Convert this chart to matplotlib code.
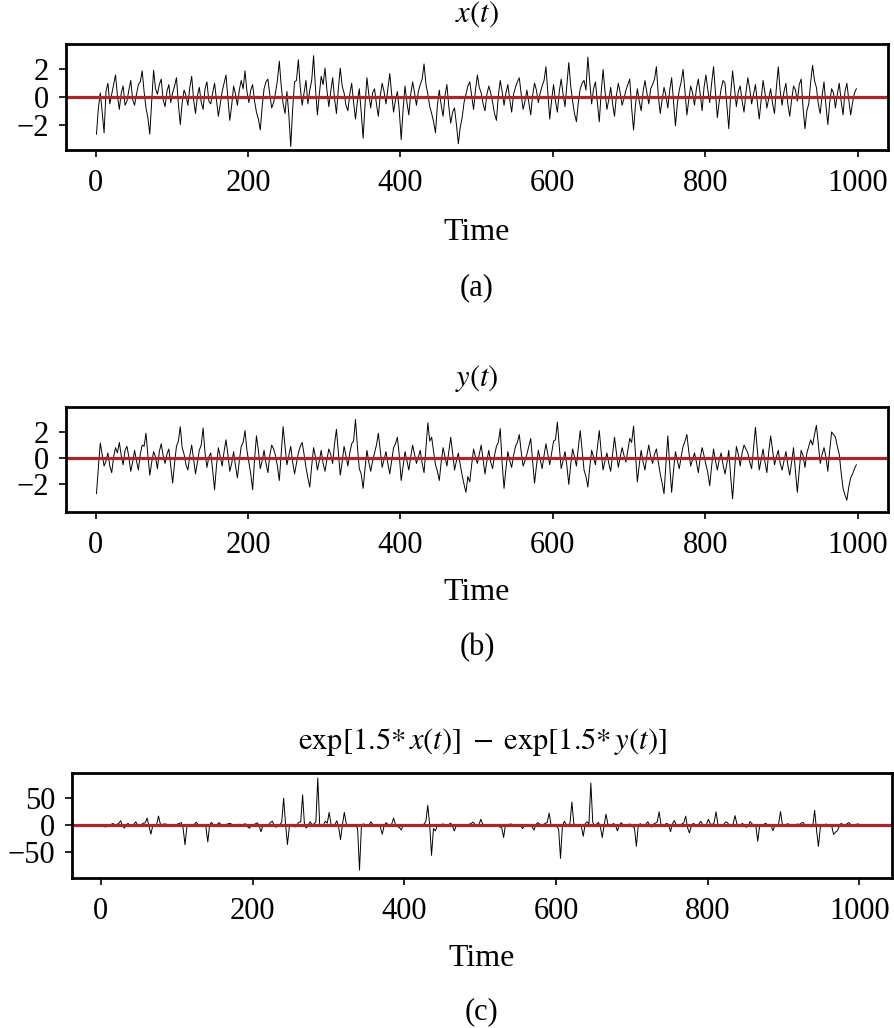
import numpy as np
import matplotlib
matplotlib.use("Agg")
import matplotlib.pyplot as plt

plt.rcParams['font.family'] = ['Liberation Serif', 'DejaVu Serif']
plt.rcParams['mathtext.fontset'] = 'stix'

# time index: values every 2.5 steps
time = np.arange(1, 1000, 2.5)

# x(t): t = 1, 6, 11, ...
x_vals = [
    -2.7, 0.3, -2.6, 1.0, 0.2, 1.6, -0.9, 0.8, -0.3, 1.2,
    -0.6, 0.9, 1.9, -0.8, -2.7, 1.95, 0.2, 1.3, -0.7, 0.9,
    0.3, 1.4, -2.0, 0.5, -0.6, 1.5, -1.2, 0.7, -0.9, 1.1,
    -0.5, 1.0, -1.4, 0.4, 1.6, -1.7, 0.8, -0.6, 1.2, 1.9,
    -0.4, 0.9, -1.1, -2.4, 0.6, 1.3, -0.8, 0.3, 2.6, -0.5,
    0.4, -3.6, 1.1, 2.7, -0.6, 1.2, 0.5, 3.0, -1.3, 1.5,
    2.1, -0.7, 1.4, -1.2, 2.1, 0.3, -1.0, 1.0, -1.6, 0.6,
    -3.0, 1.4, -0.8, 0.6, -1.4, 1.0, -0.5, 1.7, -1.1, 0.4,
    -3.1, 0.8, -1.3, 1.1, -0.6, 0.9, 2.4, 0.2, -1.2, -2.6,
    0.5, -1.4, 0.9, -1.9, -0.8, -3.4, -1.5, 0.2, 1.1, -0.9,
    1.6, 0.3, -1.0, 0.8, -0.4, -1.7, 1.2, -0.6, 0.9, -1.1,
    0.7, 1.4, -0.9, 0.5, -1.3, 1.0, -0.4, 0.8, 2.2, -1.6,
    0.9, -1.1, 1.3, -0.7, 2.5, -0.3, -1.8, 0.6, 1.2, 2.9,
    -0.5, 1.1, -1.8, 2.0, -0.9, 0.7, -1.4, 1.0, -0.6, 0.5,
    1.3, -2.4, 0.6, -1.0, 1.2, -0.5, 0.9, 2.2, -1.2, 0.7,
    -0.8, 1.4, -2.1, 0.5, 2.0, -1.3, 0.8, -0.6, 1.3, -1.0,
    1.6, -0.4, 2.2, -1.5, 0.6, 1.0, -2.3, 1.9, -0.7, 0.8,
    -1.1, 1.4, -0.5, 0.9, -1.6, 1.2, -0.8, 0.6, -1.2, 2.2,
    -0.6, 1.0, -1.4, 0.8, -0.3, 1.3, -2.3, -0.5, 2.3, 0.7,
    -1.2, 1.1, -2.0, 0.6, -0.8, 1.0, -1.3, 1.0, -1.3, 0.3,
]
# x(t) at t = 3.5, 8.5, 13.5, ...
x_mid = [
    -0.8, -1.1, 0.4, -0.5, 0.9, 0.1, 0.3, -0.6, 0.5, -0.2,
    0.2, 1.1, 0.4, -1.5, -0.3, 0.6, 0.9, -0.2, 0.4, -0.4,
    0.8, -0.5, -0.4, 0.1, 0.7, -0.2, 0.1, -0.4, 0.6, -0.3,
    0.3, -0.2, -0.5, 1.0, -0.1, -0.6, 0.2, 0.5, 0.6, 0.4,
    0.5, -0.3, -1.6, -0.7, 1.1, 0.2, -0.4, 1.2, 0.8, -1.2,
    -1.3, -0.9, 1.2, 0.7, 0.3, -0.5, 1.2, 0.6, 0.2, 0.9,
    0.5, 0.4, -0.1, 0.6, 0.8, -0.6, 0.2, -0.4, -0.3, -1.1,
    -0.6, 0.2, 0.3, -0.5, 0.1, 0.4, 0.6, 0.2, -0.2, -1.0,
    -0.9, -0.4, 0.2, 0.3, 0.4, 1.3, 0.9, -0.7, -1.8, -0.6,
    -0.6, 0.1, -0.7, -1.1, -2.0, -2.2, -0.4, 0.8, 0.1, 0.5,
    0.7, -0.5, 0.2, 0.3, -1.2, 0.1, 0.4, 0.3, -0.2, 0.2,
    1.1, 0.2, -0.3, -0.4, 0.1, 0.5, 0.3, 1.2, 0.3, -0.2,
    -0.3, 0.4, 0.2, 0.9, 0.8, -1.2, -0.4, 1.0, 0.5, 1.1,
    0.6, -0.4, 0.3, 0.4, -0.2, -0.5, 0.1, 0.3, -0.1, 0.9,
    -0.8, -0.6, -0.3, 0.4, 0.3, 0.6, 1.3, 0.1, -0.2, 0.1,
    0.5, -0.4, -0.5, 1.1, 0.4, -0.2, 0.3, 0.6, 0.2, 0.7,
    0.5, 1.0, 0.3, -0.3, 1.2, -0.6, 0.2, 0.6, 0.4, -0.3,
    0.3, 0.6, 0.2, -0.4, -0.2, 0.3, -0.1, -0.5, 0.7, 0.4,
    0.4, -0.5, -0.2, 0.5, 0.9, -0.8, -1.0, 1.1, 1.2, -0.5,
    0.1, -0.6, -0.4, 0.3, 0.2, -0.3, 0.4, -0.2, -0.4, 0.6,
]

# y(t): t = 1, 6, 11, ...
y_vals = [
    -2.7, 1.15, -0.6, 0.4, -1.1, 0.8, 1.2, -0.5, 0.9, -1.0,
    0.6, -0.9, 1.0, 1.9, -1.3, 0.5, -0.8, 1.1, -0.4, 0.7,
    -1.9, 0.9, 2.4, 0.3, -0.9, 1.0, -1.2, 0.6, 2.3, -0.7,
    0.4, -2.4, 0.8, -0.6, 1.4, -1.0, 0.5, -1.5, 0.9, 2.1,
    -0.3, -2.4, 1.7, -0.8, 0.6, -1.1, 1.0, 0.2, -1.7, 2.4,
    -0.5, 0.9, -1.2, 0.4, 1.2, -0.7, -2.2, 0.8, -0.9, 0.6,
    -1.0, 0.7, -0.4, 2.2, -1.3, 0.9, -0.6, 1.1, 2.95, -0.8,
    -2.3, 0.6, -1.0, 0.4, 1.9, -0.7, 0.5, -1.2, 0.8, 1.6,
    -1.7, 0.5, -0.9, 1.0, -0.4, 0.6, -1.1, 2.7, 1.6, -0.5,
    -1.7, 0.8, -0.6, 1.6, -0.9, 0.4, -1.3, -2.6, -1.8, 0.7,
    -0.4, 1.0, -1.2, 0.6, -0.8, 0.9, 2.25, -2.3, 0.5, -0.7,
    0.9, 1.8, -0.6, 0.3, 1.5, -1.9, 0.6, -0.8, 1.1, -0.5,
    1.3, 2.75, -0.8, 0.5, -2.0, 0.7, -0.6, 2.1, -0.9, -2.2,
    0.6, -0.5, 2.1, -0.9, 0.4, -1.0, 1.6, -0.7, 0.8, -0.3,
    1.5, 2.45, -1.8, 0.6, -0.9, 1.0, -0.4, 0.7, -1.2, -2.7,
    1.7, -2.6, 0.5, -0.8, 0.9, 1.8, -0.6, 0.4, -1.1, 0.8,
    -0.5, -2.1, 0.7, -0.9, 0.4, -1.2, 0.6, -3.1, 0.9, -0.6,
    1.0, 0.4, -0.8, 2.35, -0.9, 0.7, -1.1, 1.7, -0.5, 0.6,
    -0.9, 0.5, -1.3, 0.8, -2.6, 0.6, -0.7, 0.9, 1.0, 2.5,
    -0.4, 0.8, -1.0, 2.0, 1.6, 0.3, -2.3, -3.2, -1.5, -0.8,
]
# y(t) at t = 3.5, 8.5, 13.5, ...
y_mid = [
    -0.7, 0.3, -0.2, -0.6, 0.1, 0.4, 0.2, 0.6, 0.1, -0.3,
    -0.2, 0.3, 0.9, 0.2, -0.3, 0.1, 0.5, 0.2, 0.3, -0.6,
    -0.4, 1.3, 0.8, -0.5, 0.2, -0.1, -0.3, 1.0, 0.4, 0.1,
    -0.9, -0.6, 0.1, 0.5, 0.3, -0.4, -0.6, -0.2, 1.2, 0.6,
    -1.2, -0.1, 0.6, -0.2, -0.4, 0.2, 0.7, -0.6, 0.3, 0.9,
    0.2, -0.3, -0.4, 0.9, 0.3, -1.5, -0.6, 0.1, -0.2, -0.4,
    -0.1, 0.3, 1.1, 0.4, -0.3, 0.2, 0.4, 1.3, 0.9, -1.2,
    -0.8, -0.3, -0.2, 1.0, 0.6, -0.1, -0.4, -0.2, 1.1, 0.2,
    -0.6, -0.2, 0.1, 0.3, 0.1, -0.4, 0.8, 1.3, 0.5, -1.0,
    -0.3, 0.1, 0.5, 0.4, -0.2, -0.5, -2.0, -1.4, -0.5, 0.1,
    0.3, -0.1, -0.2, -0.3, 0.2, 1.2, -0.4, -0.8, -0.2, 0.2,
    1.2, 0.5, -0.2, 0.9, -0.2, -0.6, -0.1, 0.2, 0.3, 0.4,
    1.4, 0.9, -0.2, -0.6, -0.5, 0.1, 0.8, 0.6, -1.4, -0.7,
    0.1, 0.8, 0.5, -0.2, -0.4, 0.3, 0.4, 0.1, 0.2, 0.6,
    1.2, 0.3, -0.5, -0.3, 0.2, 0.1, 0.3, -0.3, -1.9, -0.4,
    -0.6, -0.9, -0.2, 0.1, 1.3, 0.5, -0.1, -0.3, 0.0, 0.2,
    -1.1, -0.6, -0.2, -0.1, -0.5, -0.4, -1.4, -1.0, 0.3, 0.4,
    0.7, -0.3, 0.8, 0.6, -0.1, -0.3, 0.5, 0.6, 0.1, -0.4,
    -0.2, -0.5, -0.3, -1.0, -0.9, 0.2, 0.4, 1.4, 1.8, 1.1,
    0.3, 0.1, 0.6, 1.8, 0.9, -1.1, -2.8, -2.2, -1.2, -0.5,
]

x = np.column_stack([x_vals, x_mid]).ravel()
y = np.column_stack([y_vals, y_mid]).ravel()
diff = np.exp(1.5 * x) - np.exp(1.5 * y)

titles = ['$x(t)$', '$y(t)$',
          r'$\mathrm{exp}[1.5{*}\,x(t)]\;-\;\mathrm{exp}[1.5{*}\,y(t)]$']
tags = ['(a)', '(b)', '(c)']
yticks = [[-2, 0, 2], [-2, 0, 2], [-50, 0, 50]]
ylims = [(-3.85, 3.85), (-4.1, 3.9), (-98, 96)]
xlims = [(-39, 1040), (-39, 1040), (-38, 1043)]

W, H = 895, 1028
fig = plt.figure(figsize=(W / 100, H / 100), dpi=100)

# axes boxes in pixels: left, top, right, bottom
boxes = [(66, 44, 888, 150), (66, 407, 888, 512), (72, 773, 892, 878)]
title_y = [14, 378, 742]
time_y = [232, 593, 958]
tag_y = [288, 648, 1012]

red = '#a8262e'
for k, series in enumerate([x, y, diff]):
    l, t, r, b = boxes[k]
    ax = fig.add_axes([l / W, 1 - b / H, (r - l) / W, (b - t) / H])
    ax.plot(time, series, color='black', lw=0.7)
    ax.axhline(0, color=red, lw=2.3)
    ax.set_xlim(*xlims[k])
    ax.set_ylim(*ylims[k])
    ax.set_xticks([0, 200, 400, 600, 800, 1000])
    ax.set_yticks(yticks[k])
    ax.tick_params(labelsize=22, width=1.2, length=5)
    ax.tick_params(axis='x', pad=9)
    ax.tick_params(axis='y', pad=7)
    for s in ax.spines.values():
        s.set_linewidth(2.0)
    cx = (l + r) / 2 / W
    fig.text(cx, 1 - title_y[k] / H, titles[k], ha='center', va='center', fontsize=22)
    fig.text(cx, 1 - time_y[k] / H, 'Time', ha='center', va='center', fontsize=23)
    fig.text(cx, 1 - tag_y[k] / H, tags[k], ha='center', va='center', fontsize=22)

fig.savefig('out.png', dpi=100)
